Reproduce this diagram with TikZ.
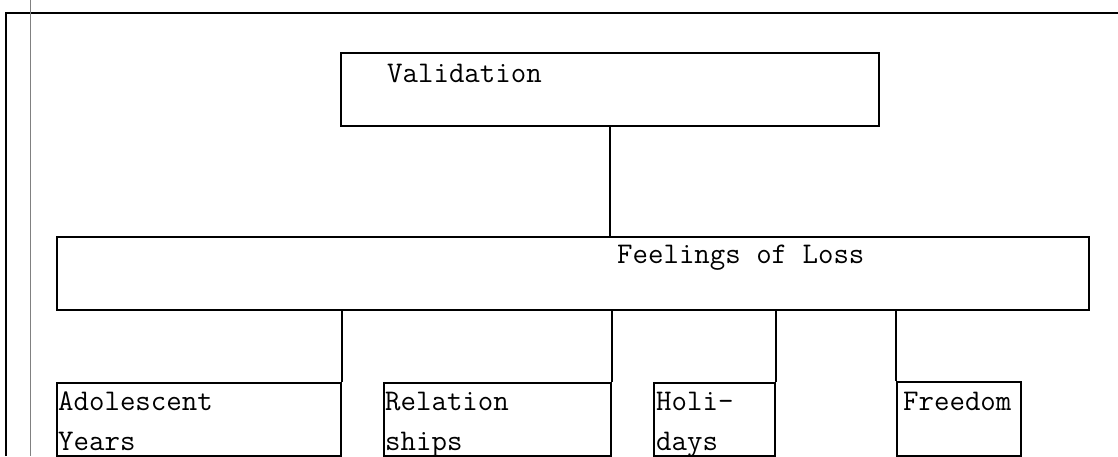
\documentclass[tikz,border=0pt]{standalone}
\usepackage{fontspec}
\begin{document}
\begin{tikzpicture}[x=1pt,y=-1pt,
  box/.style={draw,line width=1.7pt,inner sep=0pt,anchor=north west},
  lbl/.style={inner sep=0pt,anchor=base west,font=\ttfamily\fontsize{30}{34}\selectfont},
  link/.style={line width=1.7pt}]
\useasboundingbox (0,0) rectangle (1118,456);
% frame
\coordinate (ftl) at (6,13);
\coordinate (ftr) at (1118,13);
\coordinate (fbl) at (6,456);
\draw[line width=2.2pt] (fbl) -- (ftl) -- (ftr);
\coordinate (gt) at (30,0);
\coordinate (gb) at (30,456);
\draw[gray,line width=1pt] (gt) -- (gb);
% boxes
\node[box,minimum width=538pt,minimum height=73pt] (val) at (340,52) {};
\node[box,minimum width=1032pt,minimum height=73pt] (fl) at (56,236) {};
\node[box,minimum width=284pt,minimum height=73pt] (ad) at (56,382) {};
\node[box,minimum width=227pt,minimum height=73pt] (rel) at (383,382) {};
\node[box,minimum width=121pt,minimum height=73pt] (hol) at (653,382) {};
\node[box,minimum width=124pt,minimum height=74pt] (fr) at (896,381) {};
% texts
\node[lbl] (tval) at (387,82) {Validation};
\node[lbl] (tfl) at (617,263) {Feelings of Loss};
\node[lbl] (tad1) at (58,410) {Adolescent};
\node[lbl] (tad2) at (58,450) {Years};
\node[lbl] (trel1) at (385,410) {Relation};
\node[lbl] (trel2) at (385,450) {ships};
\node[lbl] (thol1) at (656,410) {Holi-};
\node[lbl] (thol2) at (656,450) {days};
\node[lbl] (tfr) at (903,410) {Freedom};
% connectors
\draw[link] (val.south) -- (val.south |- fl.north);
\draw[link] (fl.south -| ad.north east) -- (ad.north east);
\draw[link] (fl.south -| rel.north east) -- (rel.north east);
\draw[link] (fl.south -| hol.north east) -- (hol.north east);
\draw[link] (fl.south -| fr.north west) -- (fr.north west);
\end{tikzpicture}
\end{document}
